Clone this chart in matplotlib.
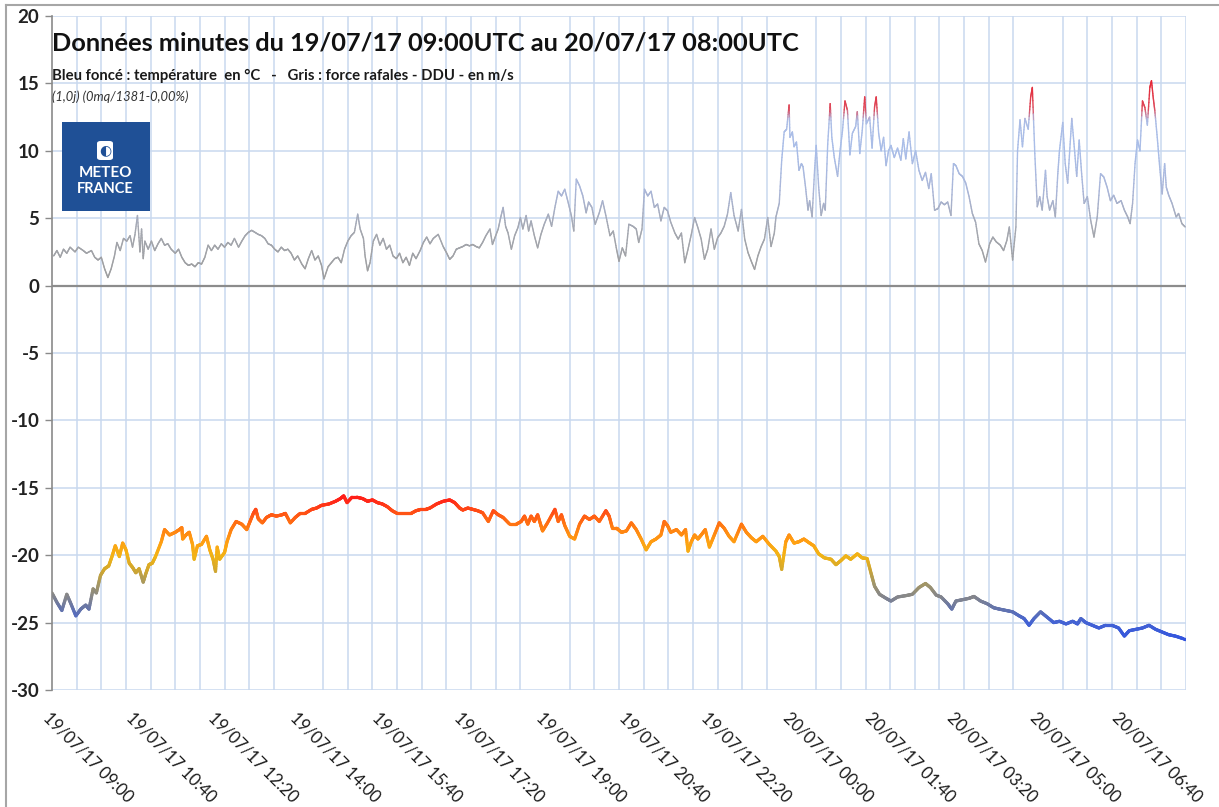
import numpy as np
import matplotlib
matplotlib.use("Agg")
import matplotlib.pyplot as plt
from matplotlib.collections import LineCollection
from matplotlib.colors import LinearSegmentedColormap, Normalize
from matplotlib.patches import Rectangle, FancyBboxPatch
from matplotlib.lines import Line2D

plt.rcParams["axes.unicode_minus"] = False

# ---------------- data (minutes since 19/07/17 09:00 UTC) ----------------
temp_min = [0, 6, 12, 18, 23, 29, 35, 41, 45, 50, 54, 59, 64, 69, 73, 77, 82, 86, 90, 94,
            98, 102, 106, 111, 114, 118, 122, 126, 133, 137, 143, 150, 155, 158, 159, 163, 167, 171, 173, 177,
            182, 188, 192, 196, 199, 201, 204, 210, 213, 218, 224, 231, 237, 241, 245, 248, 251, 256, 261, 267,
            273, 280, 284, 290, 296, 302, 308, 316, 322, 328, 337, 345, 351, 355, 359, 365, 371, 378, 384, 390,
            396, 402, 408, 414, 420, 429, 437, 443, 449, 455, 460, 468, 476, 484, 490, 496, 500, 506, 512, 518,
            524, 531, 537, 543, 549, 557, 565, 571, 575, 579, 583, 587, 591, 595, 597, 603, 612, 616, 620, 624,
            630, 636, 642, 648, 654, 660, 666, 674, 678, 682, 687, 693, 699, 705, 711, 717, 723, 729, 735, 741,
            745, 749, 753, 760, 766, 771, 774, 778, 782, 786, 790, 795, 800, 806, 812, 818, 824, 830, 839, 845,
            851, 857, 865, 873, 881, 885, 888, 893, 897, 903, 909, 915, 921, 927, 933, 940, 948, 954, 960, 966,
            972, 980, 986, 992, 997, 1001, 1007, 1015, 1021, 1029, 1039, 1047, 1055, 1063, 1069, 1076, 1082, 1090, 1095, 1100,
            1108, 1116, 1122, 1130, 1138, 1146, 1153, 1161, 1169, 1177, 1183, 1189, 1195, 1203, 1211, 1219, 1226, 1234, 1242, 1248,
            1252, 1258, 1266, 1274, 1282, 1290, 1298, 1305, 1311, 1319, 1327, 1335, 1343, 1351, 1359, 1367, 1377, 1380]
temp_val = [-22.8, -23.5, -24.1, -22.9, -23.6, -24.5, -24.0, -23.7, -24.0, -22.5, -22.8, -21.5, -21.0, -20.8, -20.1, -19.3, -20.1, -19.1, -19.6, -20.6,
            -20.9, -21.3, -21.0, -22.0, -21.4, -20.7, -20.6, -20.1, -19.0, -18.1, -18.5, -18.3, -18.1, -17.96, -18.8, -18.5, -18.3, -19.2, -20.3, -19.3,
            -19.2, -18.6, -19.6, -20.3, -21.2, -19.4, -20.3, -19.8, -19.0, -18.1, -17.5, -17.7, -18.1, -17.5, -16.9, -16.6, -17.3, -17.6, -17.2, -17.0,
            -17.1, -17.0, -16.9, -17.6, -17.2, -16.9, -16.9, -16.6, -16.5, -16.3, -16.2, -16.0, -15.8, -15.6, -16.1, -15.7, -15.7, -15.8, -16.0, -15.9,
            -16.1, -16.2, -16.4, -16.7, -16.9, -16.9, -16.9, -16.7, -16.6, -16.6, -16.5, -16.2, -16.0, -15.9, -16.1, -16.5, -16.65, -16.5, -16.6, -16.7,
            -16.85, -17.5, -16.7, -17.0, -17.2, -17.7, -17.7, -17.5, -17.1, -17.7, -17.1, -17.5, -17.0, -17.8, -18.2, -17.6, -16.6, -17.5, -17.0, -17.8,
            -18.6, -18.8, -17.7, -17.1, -17.35, -17.1, -17.5, -16.7, -17.1, -18.0, -18.0, -18.3, -18.2, -17.6, -18.1, -18.8, -19.6, -19.0, -18.8, -18.5,
            -17.5, -17.8, -18.3, -18.1, -18.5, -18.1, -19.7, -19.0, -18.5, -18.8, -18.5, -18.1, -19.4, -18.5, -17.6, -18.0, -18.6, -19.0, -17.7, -18.3,
            -18.7, -19.0, -18.6, -19.2, -19.7, -20.1, -21.05, -19.0, -18.5, -19.1, -19.0, -18.8, -19.06, -19.3, -19.9, -20.2, -20.3, -20.7, -20.4, -20.05,
            -20.3, -19.9, -20.2, -20.25, -21.4, -22.3, -22.9, -23.2, -23.4, -23.1, -23.0, -22.9, -22.4, -22.1, -22.4, -22.96, -23.1, -23.6, -24.0, -23.4,
            -23.3, -23.2, -23.06, -23.4, -23.6, -23.9, -24.0, -24.1, -24.2, -24.5, -24.7, -25.2, -24.7, -24.2, -24.6, -25.0, -24.9, -25.1, -24.9, -25.1,
            -24.7, -25.0, -25.2, -25.4, -25.2, -25.2, -25.4, -26.0, -25.6, -25.5, -25.4, -25.2, -25.5, -25.7, -25.9, -26.0, -26.2, -26.2]

wind_min = [2, 6, 10, 14, 18, 22, 28, 32, 38, 42, 48, 52, 56, 60, 64, 68, 72, 76, 79, 83,
            87, 91, 95, 98, 101, 104, 107, 109, 111, 113, 117, 121, 125, 129, 133, 137, 141, 145, 150, 154,
            158, 162, 166, 170, 174, 178, 182, 186, 190, 194, 198, 202, 206, 210, 214, 218, 222, 227, 231, 235,
            239, 243, 247, 251, 255, 259, 263, 267, 271, 275, 279, 283, 287, 291, 295, 299, 304, 308, 312, 316,
            320, 324, 328, 331, 336, 340, 344, 348, 352, 356, 360, 364, 368, 372, 375, 379, 381, 384, 387, 391,
            395, 399, 403, 407, 411, 415, 419, 423, 427, 431, 435, 439, 443, 448, 452, 456, 460, 464, 470, 476,
            480, 484, 488, 492, 496, 500, 504, 508, 512, 516, 520, 524, 528, 533, 536, 539, 543, 546, 549, 552,
            555, 559, 563, 567, 570, 573, 577, 580, 583, 587, 591, 595, 599, 604, 608, 612, 616, 620, 624, 628,
            632, 635, 638, 642, 646, 650, 653, 657, 661, 666, 670, 674, 679, 683, 687, 690, 694, 698, 702, 707,
            711, 714, 718, 721, 725, 729, 733, 737, 741, 745, 749, 753, 758, 762, 766, 770, 774, 778, 782, 786,
            790, 794, 798, 802, 806, 810, 814, 818, 822, 826, 830, 835, 839, 843, 847, 851, 855, 859, 863, 867,
            871, 875, 879, 881, 885, 888, 891, 894, 897, 898, 901, 903, 906, 909, 912, 914, 917, 920, 922, 925,
            928, 930, 933, 936, 939, 941, 944, 947, 949, 952, 956, 959, 962, 965, 968, 971, 974, 978, 980, 983,
            986, 989, 991, 995, 998, 1001, 1003, 1006, 1009, 1012, 1015, 1018, 1021, 1025, 1029, 1033, 1036, 1039, 1043, 1047,
            1051, 1055, 1059, 1063, 1067, 1070, 1074, 1078, 1082, 1086, 1090, 1094, 1097, 1100, 1104, 1108, 1112, 1116, 1120, 1124,
            1128, 1132, 1136, 1141, 1145, 1149, 1154, 1158, 1162, 1165, 1169, 1173, 1175, 1178, 1181, 1184, 1188, 1191, 1193, 1196,
            1199, 1202, 1205, 1209, 1211, 1214, 1218, 1221, 1224, 1226, 1230, 1233, 1236, 1239, 1241, 1244, 1247, 1250, 1253, 1256,
            1260, 1264, 1268, 1272, 1276, 1280, 1284, 1288, 1292, 1296, 1301, 1305, 1309, 1312, 1315, 1318, 1321, 1324, 1327, 1330,
            1333, 1336, 1338, 1340, 1342, 1345, 1348, 1351, 1354, 1356, 1359, 1363, 1368, 1371, 1375, 1379]
wind_val = [2.2, 2.6, 2.1, 2.7, 2.4, 2.85, 2.5, 2.85, 2.6, 2.4, 2.6, 2.1, 1.9, 2.1, 1.25, 0.6, 1.25, 2.2, 3.2, 2.6,
            3.5, 3.3, 3.7, 2.85, 3.8, 5.2, 2.5, 4.2, 2.0, 3.3, 2.7, 3.3, 2.6, 3.1, 3.5, 3.0, 3.1, 2.7, 2.4, 2.7,
            2.1, 1.7, 1.5, 1.6, 1.4, 1.7, 1.6, 2.1, 3.0, 2.6, 3.0, 2.7, 3.1, 2.85, 3.2, 3.0, 3.5, 2.85, 3.3, 3.7,
            3.95, 4.1, 3.95, 3.8, 3.7, 3.5, 3.1, 3.0, 2.7, 2.5, 2.85, 2.6, 2.7, 2.4, 1.9, 2.2, 1.6, 1.25, 2.0, 2.6,
            1.9, 2.2, 1.5, 0.5, 1.4, 1.7, 2.0, 2.1, 1.7, 2.7, 3.3, 3.7, 3.95, 5.3, 4.2, 3.5, 2.2, 1.1, 1.7, 3.3,
            3.8, 3.0, 3.5, 2.7, 3.0, 2.2, 2.0, 2.4, 1.7, 2.1, 1.5, 2.4, 2.0, 2.6, 3.2, 3.6, 3.1, 3.5, 3.8, 2.9,
            2.45, 1.95, 2.2, 2.7, 2.8, 2.9, 3.05, 2.95, 3.05, 2.9, 2.8, 3.2, 3.7, 4.2, 3.05, 3.55, 4.2, 5.05, 5.8, 4.4,
            3.9, 2.7, 3.7, 4.3, 5.05, 4.2, 5.2, 4.05, 4.8, 3.7, 2.8, 3.8, 4.55, 5.3, 4.4, 5.8, 7.0, 6.65, 7.15, 6.2,
            5.2, 4.05, 7.9, 7.4, 6.65, 5.4, 6.2, 5.8, 4.55, 5.4, 6.3, 5.2, 3.7, 4.05, 2.7, 1.8, 2.8, 2.2, 4.55, 4.4,
            4.2, 3.2, 4.2, 7.15, 6.65, 7.0, 5.8, 6.05, 4.8, 5.8, 5.55, 4.7, 3.9, 3.45, 3.9, 1.7, 2.7, 3.8, 5.05, 4.3,
            3.45, 1.95, 2.7, 4.2, 2.7, 3.55, 3.9, 4.4, 5.3, 6.9, 5.2, 4.05, 5.65, 3.45, 2.45, 1.8, 1.2, 2.2, 2.9, 3.45,
            5.05, 2.9, 3.9, 5.1, 6.1, 9.3, 11.4, 11.6, 13.4, 11.0, 11.4, 10.3, 10.65, 8.55, 9.05, 8.8, 7.3, 5.6, 6.3, 5.1,
            8.55, 10.4, 7.3, 5.2, 6.1, 5.6, 10.5, 13.5, 11.0, 9.5, 8.1, 10.0, 11.5, 13.7, 13.0, 9.7, 11.3, 11.8, 12.9, 9.8,
            11.5, 14.0, 12.0, 12.5, 10.2, 13.25, 14.0, 11.3, 10.0, 11.0, 8.9, 10.0, 10.4, 9.5, 10.2, 9.3, 10.9, 9.4, 11.4, 9.05,
            10.0, 8.55, 7.8, 8.4, 7.2, 8.3, 5.6, 5.7, 6.2, 6.0, 6.2, 5.2, 9.05, 8.9, 8.3, 8.1, 7.6, 6.6, 5.35, 4.7,
            3.1, 2.6, 1.75, 3.1, 3.6, 3.25, 3.0, 2.6, 3.35, 4.35, 1.9, 4.35, 10.0, 12.3, 10.3, 12.4, 11.6, 14.0, 14.7, 9.8,
            5.85, 6.6, 5.6, 8.55, 6.6, 5.6, 6.3, 5.1, 8.3, 10.0, 12.1, 9.05, 7.6, 10.5, 12.4, 10.3, 8.1, 10.8, 8.3, 6.1,
            6.6, 4.85, 3.6, 5.1, 8.3, 8.05, 7.3, 6.3, 6.7, 6.1, 6.3, 5.6, 5.1, 4.6, 6.1, 9.05, 10.8, 10.0, 13.7, 13.2,
            11.9, 14.7, 15.2, 14.0, 13.0, 11.0, 8.8, 6.8, 9.05, 7.3, 6.7, 6.1, 5.1, 5.35, 4.6, 4.35]

tick_minutes = [0, 100, 200, 300, 400, 500, 600, 700, 800, 900, 1000, 1100, 1200, 1300]
tick_labels = ["19/07/17 09:00", "19/07/17 10:40", "19/07/17 12:20", "19/07/17 14:00",
               "19/07/17 15:40", "19/07/17 17:20", "19/07/17 19:00", "19/07/17 20:40",
               "19/07/17 22:20", "20/07/17 00:00", "20/07/17 01:40", "20/07/17 03:20",
               "20/07/17 05:00", "20/07/17 06:40"]

title = "Données minutes du 19/07/17 09:00UTC au 20/07/17 08:00UTC"
subtitle = "Bleu foncé : température  en °C   -   Gris : force rafales - DDU - en m/s"
note = "(1,0j) (0mq/1381-0,00%)"

# ---------------- figure ----------------
W, H = 1219, 807
fig = plt.figure(figsize=(W / 100, H / 100), dpi=100)
fig.patch.set_facecolor("white")
FONT = "Lato"


def fx(px):
    return px / W


def fy(py):
    return 1 - py / H


ax_l, ax_r, ax_t, ax_b = 52, 1186, 16, 690
ax = fig.add_axes([fx(ax_l), fy(ax_b), (ax_r - ax_l) / W, (ax_b - ax_t) / H])
ax.set_xlim(0, 1380)
ax.set_ylim(-30, 20)

grid_c = "#c9d8ef"
ax.set_xticks(np.arange(0, 1381, 30), minor=True)
ax.set_xticks(tick_minutes)
ax.set_xticklabels(tick_labels)
ax.set_yticks(np.arange(-30, 21, 5))
ax.grid(which="minor", axis="x", color=grid_c, lw=1.1)
ax.grid(which="major", axis="y", color=grid_c, lw=1.1)
ax.grid(which="major", axis="x", visible=False)
ax.set_axisbelow(True)
for s in ["top", "right", "bottom"]:
    ax.spines[s].set_visible(False)
ax.spines["left"].set_color("#8a8a8a")
ax.spines["left"].set_linewidth(1.2)
ax.tick_params(axis="x", which="both", length=0, pad=14)
ax.tick_params(axis="y", which="major", length=5, color="#8a8a8a", width=1, pad=4)
for lab in ax.get_yticklabels():
    lab.set_fontfamily(FONT)
    lab.set_fontsize(13.5)
    lab.set_fontweight("bold")
    lab.set_color("#222222")
for lab in ax.get_xticklabels():
    lab.set_fontfamily(FONT)
    lab.set_fontsize(12)
    lab.set_color("#1a1a1a")
    lab.set_rotation(-45)
    lab.set_ha("left")
    lab.set_va("top")
    lab.set_rotation_mode("anchor")

ax.axhline(0, color="#8c8c8c", lw=1.6, zorder=2)


def gradient_line(x, y, cmap, norm, lw, n_sub=10):
    x = np.asarray(x, float)
    y = np.asarray(y, float)
    segs, vals = [], []
    for i in range(len(x) - 1):
        xs = np.linspace(x[i], x[i + 1], n_sub + 1)
        ys = np.linspace(y[i], y[i + 1], n_sub + 1)
        pts = np.column_stack([xs, ys])
        segs.extend(np.stack([pts[:-1], pts[1:]], axis=1))
        vals.extend((ys[:-1] + ys[1:]) / 2)
    lc = LineCollection(segs, cmap=cmap, norm=norm, linewidths=lw,
                        capstyle="round", joinstyle="round", zorder=3)
    lc.set_array(np.array(vals))
    ax.add_collection(lc)


# wind gust colours (grey -> light blue -> red)
w_lo, w_hi = 0.0, 15.5
w_stops = [(0.0, "#9c9c9c"), (4.0, "#a4a7af"), (7.0, "#aab6d8"), (10.0, "#a9bde8"),
           (12.3, "#abbde6"), (13.1, "#de4a5c"), (15.5, "#e8202e")]
cmap_w = LinearSegmentedColormap.from_list(
    "wind", [((v - w_lo) / (w_hi - w_lo), c) for v, c in w_stops])
gradient_line(wind_min, wind_val, cmap_w, Normalize(w_lo, w_hi), 1.0)

# temperature colours (blue -> grey -> yellow -> orange -> red)
t_lo, t_hi = -26.5, -15.5
t_stops = [(-26.5, "#2f52e0"), (-25.0, "#4463d4"), (-24.0, "#6474ac"), (-23.0, "#888888"),
           (-22.0, "#a89960"), (-21.0, "#d4a82c"), (-20.0, "#f3b416"), (-19.0, "#ffa012"),
           (-18.0, "#ff8012"), (-17.0, "#ff5a14"), (-16.0, "#ff2a18"), (-15.5, "#ff1818")]
cmap_t = LinearSegmentedColormap.from_list(
    "temp", [((v - t_lo) / (t_hi - t_lo), c) for v, c in t_stops])
gradient_line(temp_min, temp_val, cmap_t, Normalize(t_lo, t_hi), 2.3)

# ---------------- titles ----------------
fig.text(fx(52), fy(43), title, fontfamily=FONT, fontweight="bold", fontsize=18.3,
         color="#111111", ha="left", va="center")
fig.text(fx(52), fy(76), subtitle, fontfamily=FONT, fontweight="bold", fontsize=10.7,
         color="#1a1a1a", ha="left", va="center")
fig.text(fx(52), fy(97), note, fontfamily=FONT, fontstyle="italic", fontsize=9.3,
         color="#333333", ha="left", va="center")

# ---------------- logo ----------------
logo_c = "#1f5096"
fig.add_artist(Rectangle((fx(62), fy(211)), 88 / W, 89 / H, transform=fig.transFigure,
                         facecolor=logo_c, edgecolor="none", zorder=5))
fig.add_artist(FancyBboxPatch((fx(97), fy(160)), 16 / W, 19 / H,
                              boxstyle="round,pad=0,rounding_size=0.003",
                              transform=fig.transFigure, facecolor="white",
                              edgecolor="none", zorder=6))
fig.text(fx(105), fy(150.5), "\u25D0", fontsize=10, color=logo_c, ha="center", va="center",
         fontfamily="DejaVu Sans", zorder=7)
fig.text(fx(105), fy(173), "METEO", fontfamily=FONT, fontweight="bold", fontsize=11,
         color="white", ha="center", va="center", zorder=7)
fig.text(fx(105), fy(189), "FRANCE", fontfamily=FONT, fontweight="bold", fontsize=10.5,
         color="white", ha="center", va="center", zorder=7)

# ---------------- outer frame ----------------
frame_c = "#a6a6a6"
fig.add_artist(Line2D([fx(6), fx(6)], [fy(5), fy(807)], transform=fig.transFigure,
                      color=frame_c, lw=1.5))
fig.add_artist(Line2D([fx(6), fx(1219)], [fy(5), fy(5)], transform=fig.transFigure,
                      color=frame_c, lw=1.5))

fig.savefig("out.png", dpi=100, facecolor="white")
